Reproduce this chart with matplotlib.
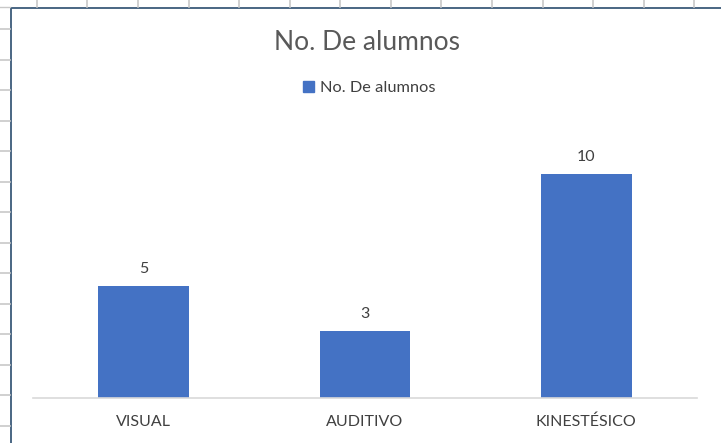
import matplotlib
matplotlib.use("Agg")
import matplotlib.pyplot as plt
from matplotlib.lines import Line2D
from matplotlib.patches import Rectangle

categories = ["VISUAL", "AUDITIVO", "KINESTÉSICO"]
values = [5, 3, 10]
series_name = "No. De alumnos"
title = "No. De alumnos"

plt.rcParams['font.family'] = ['Lato', 'DejaVu Sans']

W, H = 721, 443
fig = plt.figure(figsize=(W / 100, H / 100), dpi=100)
fig.patch.set_facecolor("white")

# spreadsheet grid behind the chart
grid_c = "#c8c8c8"
for y in [29, 60, 90, 121, 151, 182, 212, 243, 273, 304, 334, 365, 395, 426]:
    fig.add_artist(Line2D([0, 10 / W], [1 - y / H] * 2, color=grid_c, lw=1.2))
for x in [37, 87, 138, 189, 239, 290, 340, 391, 441, 492, 543, 593, 644, 694]:
    fig.add_artist(Line2D([x / W] * 2, [1, 1 - 7 / H], color=grid_c, lw=1.2))
fig.add_artist(Line2D([0, 10 / W], [1 - 7 / H] * 2, color=grid_c, lw=1.0))

# chart area with border
fig.add_artist(Rectangle((10.5 / W, -0.01), 1.0, 1 - 7.5 / H + 0.01,
                         transform=fig.transFigure, facecolor="white",
                         edgecolor="#3b5a7a", lw=1.3, zorder=0))

ax = fig.add_axes([33 / W, 1 - 398 / H, (697 - 33) / W, (398 - 129.2) / H])
ax.set_facecolor("none")
x = range(len(categories))
bars = ax.bar(x, values, width=0.41, color="#4472C4", label=series_name, zorder=2)
ax.set_xlim(-0.5, len(categories) - 0.5)
ax.set_ylim(0, 12)
for xi, v in zip(x, values):
    ax.text(xi, v + 0.45, str(v), ha="center", va="bottom", fontsize=11.5, color="#404040")
for s in ["top", "right", "left"]:
    ax.spines[s].set_visible(False)
ax.spines["bottom"].set_color("#d9d9d9")
ax.spines["bottom"].set_linewidth(1.2)
ax.set_yticks([])
ax.set_xticks(list(x))
ax.set_xticklabels(categories, fontsize=11.5, color="#404040")
ax.tick_params(axis="x", length=0, pad=12)

fig.text(366.5 / W, 1 - 42 / H, title, ha="center", va="center", fontsize=19, color="#595959")
leg = fig.legend(handles=[Rectangle((0, 0), 1, 1, color="#4472C4")], labels=[series_name],
                 loc="center", bbox_to_anchor=(369 / W, 1 - 88 / H), frameon=False,
                 fontsize=11.8, handlelength=0.7, handleheight=0.7, handletextpad=0.35,
                 labelcolor="#404040")

fig.savefig("out.png", dpi=100)
